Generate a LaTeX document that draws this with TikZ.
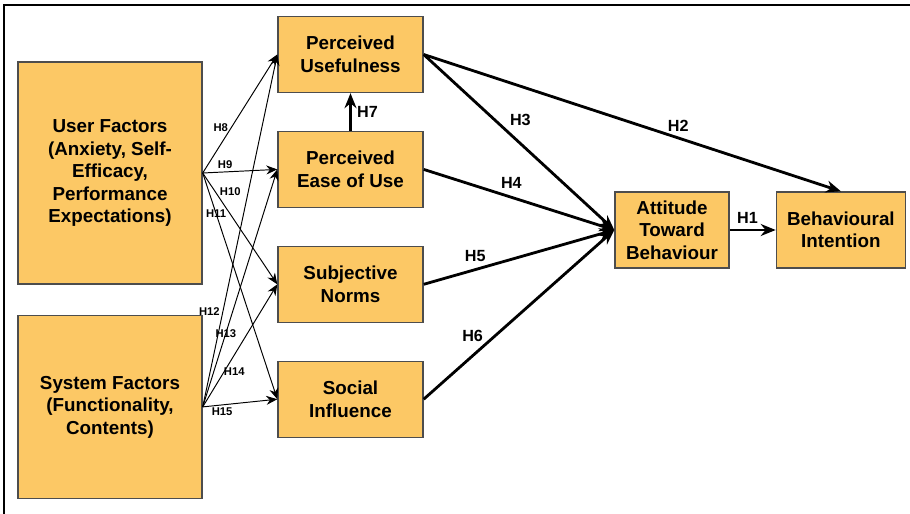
\documentclass[tikz,border=0pt]{standalone}
\usepackage{fontspec}
\setmainfont{Liberation Sans}
\usetikzlibrary{arrows.meta,positioning}
\definecolor{boxfill}{HTML}{FCC865}
\definecolor{boxline}{HTML}{4D4D4D}
\tikzset{
  blk/.style={draw=boxline, fill=boxfill, rectangle, line width=0.8pt, align=center, inner sep=2pt, font=\fontsize{10.7}{12.8}\selectfont\bfseries},
  mblk/.style={blk, minimum width=2.9cm, minimum height=1.52cm},
  arr/.style={-{Stealth[length=3mm, width=2.4mm]}, line width=1.6pt},
  tarr/.style={-{Stealth[length=2.2mm, width=1.8mm]}, line width=0.55pt},
  hlbl/.style={font=\fontsize{9.2}{10}\selectfont\bfseries, inner sep=1pt},
  slbl/.style={font=\fontsize{6.4}{7}\selectfont\bfseries, inner sep=0.5pt},
}

\begin{document}
\begin{tikzpicture}

\useasboundingbox (0,0) rectangle (18.2,-10.28);
\draw[line width=0.6pt] (0.08,-10.5) -- (0.08,-0.1) -- (18.4,-0.1);

\node[mblk] (pu) at (7.01,-1.09) {Perceived\\Usefulness};
\node[mblk, below=0.75cm of pu] (peou) {Perceived\\Ease of Use};
\node[mblk, below=0.75cm of peou] (sn) {Subjective\\Norms};
\node[mblk, below=0.75cm of sn] (si) {Social\\Influence};

\node[blk, minimum width=3.68cm, minimum height=4.44cm] (uf) at (2.2,-3.46)
  {User Factors\\(Anxiety, Self-\\Efficacy,\\Performance\\Expectations)};
\node[blk, below=0.6cm of uf, minimum width=3.68cm, minimum height=3.66cm] (sf)
  {System Factors\\(Functionality,\\Contents)};

\node[blk, minimum width=2.28cm, minimum height=1.52cm] (atb) at (13.44,-4.6) {Attitude\\Toward\\Behaviour};
\node[blk, right=0.92cm of atb, minimum width=2.58cm, minimum height=1.52cm] (bi) {Behavioural\\Intention};

% user / system factors
\draw[tarr] (uf.east) -- node[slbl, pos=.38, left=1pt] {H8} (pu.west);
\draw[tarr] (uf.east) -- node[slbl, pos=.3, above=1pt] {H9} (peou.west);
\draw[tarr] (uf.east) -- node[slbl, pos=.37, above=10pt] {H10} (sn.west);
\draw[tarr] (uf.east) -- node[slbl, pos=.18] {H11} (si.west);
\draw[tarr] (sf.east) -- node[slbl, pos=.27, left=1pt] {H12} (pu.west);
\draw[tarr] (sf.east) -- node[slbl, pos=.31] {H13} (peou.west);
\draw[tarr] (sf.east) -- node[slbl, pos=.29, anchor=west, xshift=-1pt] {H14} (sn.west);
\draw[tarr] (sf.east) -- node[slbl, pos=.26, below=1pt] {H15} (si.west);

% hypotheses
\draw[arr] (peou) -- node[hlbl, right=2pt] {H7} (pu);
\draw[arr] (pu.east) -- node[hlbl, pos=.43, above right=1pt] {H3} (atb.west);
\draw[arr] (pu.east) -- node[hlbl, pos=.61, above=2pt] {H2} (bi.north);
\draw[arr] (peou.east) -- node[hlbl, pos=.46, above=3pt] {H4} (atb.west);
\draw[arr] (sn.east) -- node[hlbl, pos=.27, above=3pt] {H5} (atb.west);
\draw[arr] (si.east) -- node[hlbl, pos=.3, anchor=south east, xshift=3pt, yshift=2pt] {H6} (atb.west);
\draw[arr] (atb) -- node[hlbl, above=2pt, xshift=-3pt] {H1} (bi);

\end{tikzpicture}
\end{document}
